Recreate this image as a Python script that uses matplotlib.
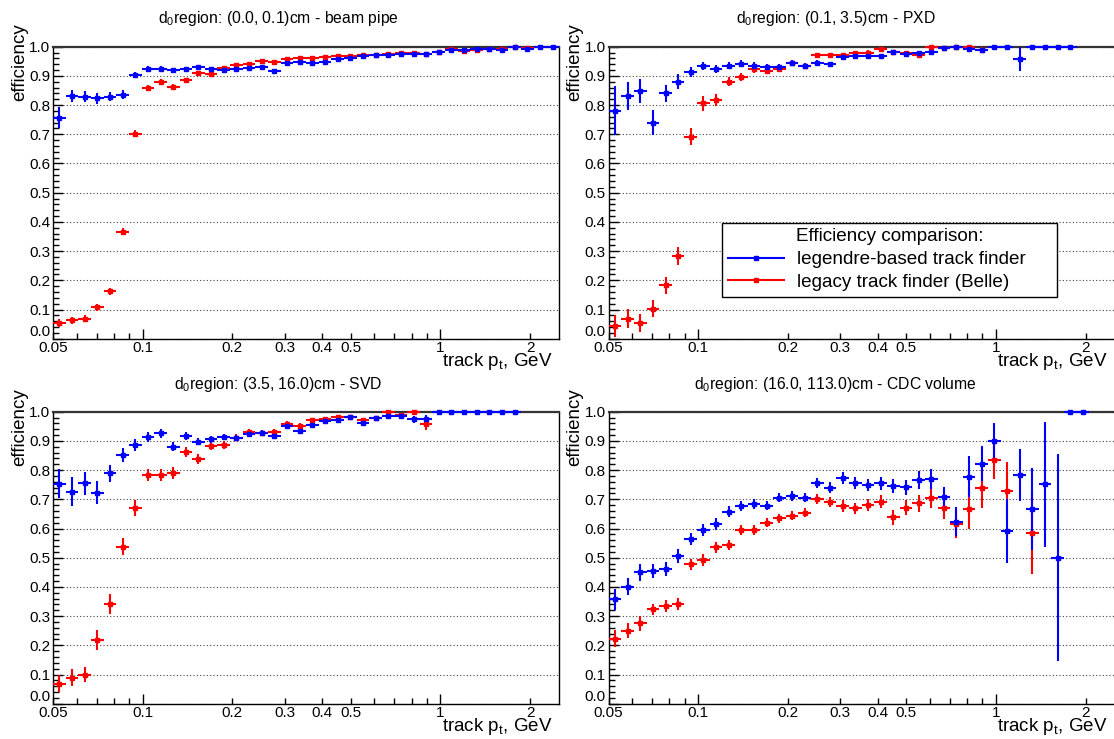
import numpy as np
import matplotlib

matplotlib.use("Agg")
import matplotlib.pyplot as plt
from matplotlib.lines import Line2D

plt.rcParams["font.family"] = ["Liberation Sans", "DejaVu Sans"]
plt.rcParams["mathtext.default"] = "regular"

# log-spaced pt bins (GeV), 40 bins from 0.05 to 2.5
pt_edges = [0.05, 0.05514, 0.0608, 0.06705, 0.07394, 0.08154, 0.08991, 0.09915,
            0.1093, 0.1206, 0.133, 0.1466, 0.1617, 0.1783, 0.1966, 0.2168, 0.2391,
            0.2637, 0.2907, 0.3206, 0.3536, 0.3899, 0.4299, 0.4741, 0.5228, 0.5765,
            0.6358, 0.7011, 0.7731, 0.8526, 0.9401, 1.037, 1.143, 1.261, 1.39, 1.533,
            1.691, 1.864, 2.056, 2.267, 2.5]

titles = [
    "d$_0$region: (0.0, 0.1)cm - beam pipe",
    "d$_0$region: (0.1, 3.5)cm - PXD",
    "d$_0$region: (3.5, 16.0)cm - SVD",
    "d$_0$region: (16.0, 113.0)cm - CDC volume",
]

# beam pipe
bp_legendre = [0.757, 0.831, 0.829, 0.823, 0.829, 0.836, 0.904, 0.925, 0.925, 0.920,
               0.922, 0.932, 0.924, 0.921, 0.925, 0.928, 0.930, 0.918, 0.943, 0.949,
               0.943, 0.949, 0.958, 0.962, 0.967, 0.970, 0.971, 0.975, 0.976, 0.976,
               0.983, 0.989, 0.987, 0.991, 0.993, 0.990, 1.0, 0.993, 1.0, 1.0]
bp_legendre_err = [0.035, 0.022, 0.02, 0.018, 0.016, 0.014, 0.01, 0.008, 0.008, 0.007,
                   0.007, 0.007, 0.006, 0.006, 0.006, 0.006, 0.006, 0.006, 0.005, 0.005,
                   0.005, 0.005, 0.005, 0.005, 0.005, 0.005, 0.005, 0.005, 0.005, 0.005,
                   0.005, 0.005, 0.005, 0.005, 0.004, 0.004, 0.0, 0.004, 0.0, 0.0]
bp_legacy = [0.054, 0.063, 0.069, 0.107, 0.162, 0.367, 0.702, 0.860, 0.880, 0.863,
             0.886, 0.909, 0.908, 0.926, 0.937, 0.942, 0.950, 0.948, 0.958, 0.962,
             0.962, 0.966, 0.969, 0.969, 0.972, 0.973, 0.976, 0.977, 0.977, 0.974,
             0.983, 0.992, 0.985, 0.990, 0.993, 0.992, 1.0, 0.997]
bp_legacy_err = [0.015, 0.013, 0.012, 0.012, 0.012, 0.013, 0.012, 0.009, 0.008, 0.008,
                 0.007, 0.007, 0.006, 0.006, 0.006, 0.006, 0.006, 0.006, 0.005, 0.005,
                 0.005, 0.005, 0.005, 0.005, 0.005, 0.005, 0.005, 0.005, 0.005, 0.005,
                 0.005, 0.005, 0.005, 0.005, 0.004, 0.004, 0.0, 0.003]

# PXD
pxd_legendre = [0.780, 0.831, 0.848, 0.740, 0.840, 0.880, 0.913, 0.934, 0.924, 0.934,
                0.942, 0.935, 0.932, 0.932, 0.944, 0.934, 0.945, 0.940, 0.965, 0.969,
                0.968, 0.968, 0.981, 0.975, 0.977, 0.982, 0.994, 1.0, 0.992, 0.987,
                1.0, 1.0, 0.958, 1.0, 1.0, 1.0, 1.0]
pxd_legendre_err = [0.084, 0.047, 0.042, 0.043, 0.03, 0.025, 0.017, 0.014, 0.013, 0.012,
                    0.011, 0.011, 0.01, 0.01, 0.009, 0.009, 0.009, 0.009, 0.008, 0.008,
                    0.008, 0.008, 0.007, 0.008, 0.008, 0.008, 0.007, 0.0, 0.008, 0.01,
                    0.0, 0.0, 0.04, 0.0, 0.0, 0.0, 0.0]
pxd_legacy = [0.043, 0.069, 0.054, 0.103, 0.183, 0.283, 0.692, 0.806, 0.817, 0.880,
              0.897, 0.923, 0.917, 0.924, 0.945, 0.935, 0.970, 0.970, 0.971, 0.977,
              0.979, 0.991, 0.981, 0.977, 0.972, 0.998, 0.994, 1.0, 1.0, 0.989]
pxd_legacy_err = [0.037, 0.033, 0.03, 0.03, 0.03, 0.03, 0.03, 0.025, 0.02, 0.015,
                  0.013, 0.012, 0.011, 0.01, 0.009, 0.009, 0.008, 0.008, 0.008, 0.008,
                  0.008, 0.006, 0.008, 0.008, 0.009, 0.004, 0.006, 0.0, 0.0, 0.01]

# SVD
svd_legendre = [0.753, 0.726, 0.755, 0.723, 0.789, 0.852, 0.886, 0.913, 0.926, 0.880,
                0.917, 0.897, 0.905, 0.914, 0.911, 0.923, 0.927, 0.916, 0.952, 0.935,
                0.954, 0.969, 0.970, 0.982, 0.962, 0.977, 0.986, 0.986, 0.974, 0.974,
                1.0, 1.0, 1.0, 1.0, 1.0, 1.0, 1.0]
svd_legendre_err = [0.05, 0.05, 0.04, 0.04, 0.03, 0.025, 0.02, 0.017, 0.015, 0.015,
                    0.013, 0.012, 0.012, 0.011, 0.01, 0.01, 0.01, 0.01, 0.009, 0.009,
                    0.008, 0.008, 0.007, 0.006, 0.008, 0.007, 0.006, 0.006, 0.012, 0.015,
                    0.0, 0.0, 0.0, 0.0, 0.0, 0.0, 0.0]
svd_legacy = [0.069, 0.089, 0.100, 0.218, 0.342, 0.538, 0.669, 0.783, 0.783, 0.791,
              0.863, 0.838, 0.883, 0.886, 0.910, 0.932, 0.927, 0.932, 0.959, 0.951,
              0.970, 0.974, 0.981, 0.982, 0.972, 0.977, 0.998, 0.989, 1.0, 0.958]
svd_legacy_err = [0.03, 0.03, 0.025, 0.035, 0.035, 0.03, 0.027, 0.022, 0.022, 0.02,
                  0.017, 0.017, 0.015, 0.014, 0.012, 0.01, 0.01, 0.01, 0.009, 0.009,
                  0.008, 0.008, 0.007, 0.007, 0.008, 0.007, 0.004, 0.006, 0.0, 0.02]

# CDC volume
cdc_legendre = [0.357, 0.401, 0.450, 0.454, 0.461, 0.506, 0.564, 0.596, 0.615, 0.658,
                0.678, 0.684, 0.678, 0.706, 0.711, 0.706, 0.755, 0.740, 0.772, 0.755,
                0.749, 0.755, 0.746, 0.741, 0.766, 0.770, 0.708, 0.623, 0.778, 0.821,
                0.900, 0.591, 0.783, 0.667, 0.751, 0.500, 1.0, 1.0]
cdc_legendre_err = [0.035, 0.03, 0.03, 0.025, 0.025, 0.025, 0.02, 0.02, 0.02, 0.018,
                    0.017, 0.017, 0.016, 0.016, 0.016, 0.016, 0.018, 0.018, 0.02, 0.02,
                    0.02, 0.022, 0.025, 0.025, 0.03, 0.035, 0.035, 0.05, 0.07, 0.06,
                    0.06, 0.11, 0.09, 0.14, 0.215, 0.355, 0.0, 0.0]
cdc_legacy = [0.223, 0.250, 0.275, 0.323, 0.335, 0.342, 0.477, 0.491, 0.535, 0.543,
              0.595, 0.595, 0.620, 0.635, 0.644, 0.654, 0.701, 0.690, 0.676, 0.669,
              0.680, 0.692, 0.638, 0.671, 0.686, 0.706, 0.669, 0.614, 0.667, 0.740,
              0.835, 0.729, np.nan, 0.583]
cdc_legacy_err = [0.03, 0.025, 0.025, 0.02, 0.02, 0.02, 0.02, 0.02, 0.02, 0.018,
                  0.017, 0.017, 0.016, 0.016, 0.016, 0.016, 0.018, 0.018, 0.02, 0.02,
                  0.02, 0.022, 0.025, 0.025, 0.03, 0.035, 0.035, 0.045, 0.07, 0.07,
                  0.065, 0.1, np.nan, 0.14]

panels = [
    (bp_legacy, bp_legacy_err, bp_legendre, bp_legendre_err),
    (pxd_legacy, pxd_legacy_err, pxd_legendre, pxd_legendre_err),
    (svd_legacy, svd_legacy_err, svd_legendre, svd_legendre_err),
    (cdc_legacy, cdc_legacy_err, cdc_legendre, cdc_legendre_err),
]

BLUE = "#0000ff"
RED = "#ff0000"

W, H = 1114, 739
fig = plt.figure(figsize=(W / 100, H / 100), dpi=100)

# axes boxes in pixels: left, top of the frame
ax_w, ax_h = 506, 292
origins = [(53, 46.7), (608.6, 46.7), (53, 411.7), (608.6, 411.7)]


def draw_series(ax, vals, errs, col):
    n = len(vals)
    lo = np.array(pt_edges[:n])
    hi = np.array(pt_edges[1:n + 1])
    x = np.sqrt(lo * hi)
    y = np.array(vals, dtype=float)
    e = np.array(errs, dtype=float)
    up = np.minimum(e, 1 - y)
    dn = np.minimum(e, y)
    cont = ax.errorbar(x, y, xerr=[x - lo, hi - x], yerr=[dn, up], fmt="s", ms=3.4,
                       color=col, ecolor=col, elinewidth=1.5, capsize=0, zorder=3)
    for art in cont.get_children():
        art.set_clip_on(False)


minor_x = [0.05, 0.06, 0.07, 0.08, 0.09, 0.2, 0.3, 0.4, 0.5, 0.6, 0.7, 0.8, 0.9, 2]
minor_x_lbl = ["0.05", "", "", "", "", "0.2", "0.3", "0.4", "0.5", "", "", "", "", "2"]
y_major = np.round(np.arange(0, 1.01, 0.1), 1)

for k, ((lx, ty), title, data) in enumerate(zip(origins, titles, panels)):
    ax = fig.add_axes([lx / W, 1 - (ty + ax_h) / H, ax_w / W, ax_h / H])
    red, red_err, blue, blue_err = data
    draw_series(ax, red, red_err, RED)
    draw_series(ax, blue, blue_err, BLUE)

    ax.set_xscale("log")
    ax.set_xlim(0.05, 2.5)
    ax.set_ylim(0, 1.0)
    ax.set_xticks([0.1, 1], ["0.1", "1"])
    ax.set_xticks(minor_x, minor_x_lbl, minor=True)
    ax.set_yticks(y_major, [f"{v:.1f}" for v in y_major])
    ax.set_yticks(np.arange(0, 1.001, 0.02), minor=True)
    ax.tick_params(which="both", direction="in", top=False, right=False,
                   labelsize=11, width=1.0, color="black")
    ax.tick_params(axis="y", which="major", length=7, pad=2)
    ax.tick_params(axis="y", which="minor", length=4)
    ax.tick_params(axis="x", which="major", length=7, pad=2)
    ax.tick_params(axis="x", which="minor", length=4, pad=2)
    # ROOT lifts the "0.0" label off the corner
    ax.yaxis.get_major_ticks()[0].label1.set_va("bottom")
    ax.grid(axis="y", which="major", linestyle=(0, (1, 2)), color="#444444", linewidth=0.8)
    ax.set_axisbelow(True)
    for sp in ax.spines.values():
        sp.set_linewidth(1.0)
    ax.spines["top"].set_linewidth(1.6)
    ax.spines["top"].set_color("#333333")

    cx = 0.25 if k % 2 == 0 else 0.75
    off = 0 if k < 2 else 365
    fig.text(cx, 1 - (off + 19) / H, title, ha="center", va="center", fontsize=11.3)
    px = 0 if k % 2 == 0 else 555
    fig.text((px + 19.6) / W, 1 - (off + 23) / H, "efficiency", rotation=90,
             ha="center", va="top", fontsize=13.5)
    fig.text((px + 552) / W, 1 - (off + 366) / H, "track p$_{t}$, GeV",
             ha="right", va="baseline", fontsize=13.5)

    if k == 1:
        handles = [
            Line2D([], [], color=BLUE, lw=1.5, marker="s", ms=3.4),
            Line2D([], [], color=RED, lw=1.5, marker="s", ms=3.4),
        ]
        leg = ax.legend(handles, ["legendre-based track finder", "legacy track finder (Belle)"],
                        title="Efficiency comparison:", loc="center",
                        bbox_to_anchor=(0.224, 0.135, 0.662, 0.271), mode="expand",
                        fontsize=13.6, title_fontsize=13.6, frameon=True, fancybox=False,
                        edgecolor="black", framealpha=1, handlelength=3.0,
                        handletextpad=0.7, borderpad=0.3, labelspacing=0.3,
                        borderaxespad=0)
        leg.get_frame().set_linewidth(1.0)

fig.savefig("out.png", dpi=100)
